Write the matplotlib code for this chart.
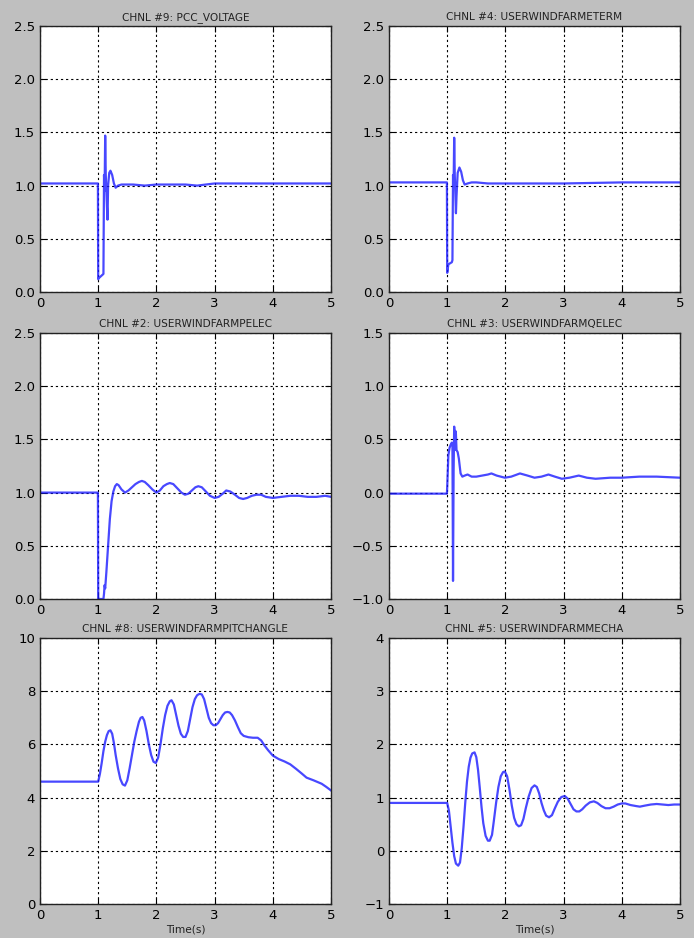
import numpy as np
import matplotlib
matplotlib.use("Agg")
import matplotlib.pyplot as plt

# channel titles (in plotting order: row by row)
titles = [
    "CHNL #9: PCC_VOLTAGE",
    "CHNL #4: USERWINDFARMETERM",
    "CHNL #2: USERWINDFARMPELEC",
    "CHNL #3: USERWINDFARMQELEC",
    "CHNL #8: USERWINDFARMPITCHANGLE",
    "CHNL #5: USERWINDFARMMECHA",
]

# (time, value) samples
pcc_voltage = [
    (0.0, 1.02), (0.995, 1.02), (1.0, 0.12), (1.01, 0.13), (1.09, 0.17),
    (1.10, 1.10), (1.11, 0.95), (1.12, 1.47), (1.13, 1.10), (1.15, 0.80),
    (1.16, 0.68), (1.17, 1.00), (1.19, 1.12), (1.21, 1.14), (1.24, 1.10),
    (1.27, 1.02), (1.30, 0.98), (1.34, 1.00), (1.40, 1.01), (1.6, 1.01),
    (1.8, 1.00), (2.0, 1.01), (2.2, 1.01), (2.5, 1.01), (2.7, 1.00),
    (3.0, 1.02), (3.5, 1.02), (4.0, 1.02), (4.5, 1.02), (5.0, 1.02),
]

eterm = [
    (0.0, 1.03), (0.995, 1.03), (1.0, 0.18), (1.02, 0.26), (1.08, 0.28),
    (1.09, 0.30), (1.10, 1.10), (1.11, 1.00), (1.12, 1.45), (1.13, 1.10),
    (1.15, 0.74), (1.16, 0.90), (1.18, 1.12), (1.21, 1.17), (1.24, 1.13),
    (1.27, 1.05), (1.30, 1.01), (1.35, 1.02), (1.42, 1.03), (1.5, 1.03),
    (1.7, 1.02), (2.0, 1.02), (3.0, 1.02), (4.0, 1.03), (5.0, 1.03),
]

pelec = [
    (0.0, 1.0), (0.995, 1.0), (1.0, 0.0), (1.02, 0.0), (1.09, 0.0),
    (1.10, 0.05), (1.11, 0.13), (1.12, 0.10), (1.14, 0.25), (1.17, 0.50),
    (1.20, 0.75), (1.23, 0.92), (1.26, 1.01), (1.29, 1.06), (1.32, 1.08),
    (1.35, 1.07), (1.40, 1.03), (1.46, 1.00), (1.52, 1.02), (1.58, 1.05),
    (1.64, 1.08), (1.70, 1.10), (1.75, 1.11), (1.80, 1.10), (1.86, 1.07),
    (1.93, 1.03), (2.0, 1.00), (2.06, 1.02), (2.12, 1.06), (2.18, 1.08),
    (2.23, 1.09), (2.29, 1.08), (2.36, 1.04), (2.43, 1.00), (2.49, 0.98),
    (2.55, 0.99), (2.61, 1.02), (2.67, 1.05), (2.72, 1.06), (2.78, 1.05),
    (2.85, 1.01), (2.92, 0.97), (3.0, 0.95), (3.07, 0.96), (3.14, 0.99),
    (3.20, 1.02), (3.27, 1.01), (3.35, 0.98), (3.42, 0.95), (3.49, 0.94),
    (3.56, 0.95), (3.64, 0.97), (3.72, 0.98), (3.80, 0.98), (3.88, 0.96),
    (4.0, 0.95), (4.15, 0.96), (4.3, 0.97), (4.45, 0.97), (4.6, 0.96),
    (4.75, 0.96), (4.9, 0.97), (5.0, 0.96),
]

qelec = [
    (0.0, -0.01), (0.995, -0.01), (1.0, 0.05), (1.02, 0.35), (1.04, 0.42),
    (1.06, 0.45), (1.08, 0.47), (1.09, 0.45), (1.10, -0.83), (1.11, 0.20),
    (1.12, 0.62), (1.13, 0.40), (1.14, 0.58), (1.15, 0.55), (1.16, 0.40),
    (1.18, 0.38), (1.20, 0.32), (1.23, 0.18), (1.26, 0.15), (1.30, 0.16),
    (1.35, 0.17), (1.42, 0.15), (1.5, 0.15), (1.6, 0.16), (1.7, 0.17),
    (1.76, 0.18), (1.85, 0.16), (1.99, 0.14), (2.1, 0.15), (2.25, 0.18),
    (2.38, 0.16), (2.5, 0.14), (2.62, 0.15), (2.74, 0.17), (2.85, 0.15),
    (2.97, 0.13), (3.1, 0.14), (3.26, 0.16), (3.4, 0.14), (3.55, 0.13),
    (3.8, 0.14), (4.0, 0.14), (4.3, 0.15), (4.6, 0.15), (5.0, 0.14),
]

pitch = [
    (0.0, 4.6), (1.0, 4.6), (1.03, 4.9), (1.06, 5.3), (1.09, 5.75),
    (1.12, 6.1), (1.15, 6.35), (1.18, 6.5), (1.21, 6.53), (1.24, 6.4),
    (1.27, 6.05), (1.30, 5.6), (1.34, 5.1), (1.38, 4.7), (1.42, 4.5),
    (1.46, 4.45), (1.50, 4.65), (1.54, 5.1), (1.58, 5.6), (1.62, 6.1),
    (1.66, 6.5), (1.70, 6.85), (1.73, 7.0), (1.76, 7.03), (1.79, 6.9),
    (1.83, 6.5), (1.87, 6.0), (1.91, 5.6), (1.95, 5.35), (1.99, 5.3),
    (2.03, 5.5), (2.07, 6.0), (2.11, 6.6), (2.15, 7.1), (2.19, 7.45),
    (2.23, 7.62), (2.26, 7.66), (2.30, 7.5), (2.34, 7.1), (2.38, 6.7),
    (2.42, 6.4), (2.46, 6.28), (2.50, 6.28), (2.54, 6.5), (2.58, 6.95),
    (2.62, 7.4), (2.66, 7.7), (2.70, 7.85), (2.74, 7.9), (2.78, 7.88),
    (2.82, 7.7), (2.86, 7.35), (2.90, 7.0), (2.94, 6.8), (2.98, 6.72),
    (3.02, 6.72), (3.06, 6.8), (3.10, 6.95), (3.14, 7.1), (3.18, 7.2),
    (3.22, 7.22), (3.26, 7.2), (3.30, 7.1), (3.35, 6.9), (3.40, 6.65),
    (3.45, 6.42), (3.50, 6.32), (3.58, 6.27), (3.66, 6.25), (3.74, 6.25),
    (3.80, 6.15), (3.86, 5.95), (3.92, 5.78), (4.0, 5.58), (4.1, 5.45),
    (4.2, 5.36), (4.3, 5.25), (4.4, 5.08), (4.5, 4.9), (4.58, 4.75),
    (4.7, 4.65), (4.84, 4.52), (4.92, 4.4), (5.0, 4.27),
]

mecha = [
    (0.0, 0.9), (1.0, 0.9), (1.03, 0.75), (1.06, 0.45), (1.09, 0.15),
    (1.12, -0.10), (1.15, -0.24), (1.19, -0.28), (1.22, -0.22), (1.25, 0.05),
    (1.28, 0.45), (1.31, 0.90), (1.34, 1.30), (1.37, 1.58), (1.40, 1.75),
    (1.43, 1.83), (1.47, 1.85), (1.50, 1.76), (1.53, 1.52), (1.56, 1.18),
    (1.59, 0.82), (1.62, 0.52), (1.66, 0.28), (1.70, 0.19), (1.73, 0.19),
    (1.77, 0.30), (1.80, 0.55), (1.84, 0.90), (1.88, 1.20), (1.92, 1.40),
    (1.96, 1.48), (1.99, 1.49), (2.03, 1.40), (2.07, 1.15), (2.11, 0.85),
    (2.15, 0.62), (2.19, 0.50), (2.23, 0.46), (2.27, 0.48), (2.31, 0.60),
    (2.35, 0.80), (2.40, 1.02), (2.45, 1.18), (2.50, 1.23), (2.54, 1.20),
    (2.58, 1.08), (2.62, 0.90), (2.66, 0.76), (2.70, 0.66), (2.75, 0.63),
    (2.80, 0.67), (2.85, 0.80), (2.90, 0.92), (2.96, 1.01), (3.02, 1.03),
    (3.07, 0.98), (3.12, 0.88), (3.17, 0.78), (3.22, 0.74), (3.27, 0.74),
    (3.32, 0.78), (3.38, 0.85), (3.45, 0.91), (3.52, 0.93), (3.58, 0.90),
    (3.65, 0.84), (3.72, 0.80), (3.79, 0.80), (3.86, 0.83), (3.93, 0.87),
    (4.0, 0.89), (4.06, 0.89), (4.15, 0.86), (4.25, 0.84), (4.31, 0.83),
    (4.4, 0.85), (4.5, 0.87), (4.6, 0.88), (4.7, 0.87), (4.8, 0.86),
    (4.9, 0.87), (5.0, 0.87),
]

series = [pcc_voltage, eterm, pelec, qelec, pitch, mecha]

# y ticks per panel
yticks = [
    [0.0, 0.5, 1.0, 1.5, 2.0, 2.5],
    [0.0, 0.5, 1.0, 1.5, 2.0, 2.5],
    [0.0, 0.5, 1.0, 1.5, 2.0, 2.5],
    [-1.0, -0.5, 0.0, 0.5, 1.0, 1.5],
    [0, 2, 4, 6, 8, 10],
    [-1, 0, 1, 2, 3, 4],
]
xticks = [0, 1, 2, 3, 4, 5]

W, H = 694, 938
fig = plt.figure(figsize=(W / 100, H / 100), dpi=100, facecolor="#bfbfbf")

# axes boxes in pixels: left, top, width, height
lefts = [40, 389]
tops = [26, 333, 638]
aw, ah = 291, 266

for i, (data, title, yt) in enumerate(zip(series, titles, yticks)):
    r, c = divmod(i, 2)
    ax = fig.add_axes([lefts[c] / W, 1 - (tops[r] + ah) / H, aw / W, ah / H])
    ax.set_facecolor("white")
    arr = np.array(data)
    ax.plot(arr[:, 0], arr[:, 1], color="#1a1aff", lw=1.6, alpha=0.8)
    ax.set_xlim(0, 5)
    ax.set_ylim(yt[0], yt[-1])
    ax.set_xticks(xticks)
    ax.set_yticks(yt)
    if isinstance(yt[0], float):
        ax.set_yticklabels([f"{v:.1f}".replace("-", "\u2212") for v in yt])
    ax.grid(True, color="black", linestyle=(0, (2, 2.6)), lw=0.8)
    ax.tick_params(direction="in", top=True, right=True, length=4,
                   labelsize=9.5, pad=3.5, colors="black")
    for s in ax.spines.values():
        s.set_linewidth(1.0)
        s.set_color("#222222")
    ax.set_title(title, fontsize=7.6, pad=4, color="#222222")
    if r == 2:
        ax.set_xlabel("Time(s)", fontsize=7.6, labelpad=2, color="#222222")

fig.savefig("out.png", dpi=100, facecolor=fig.get_facecolor())
